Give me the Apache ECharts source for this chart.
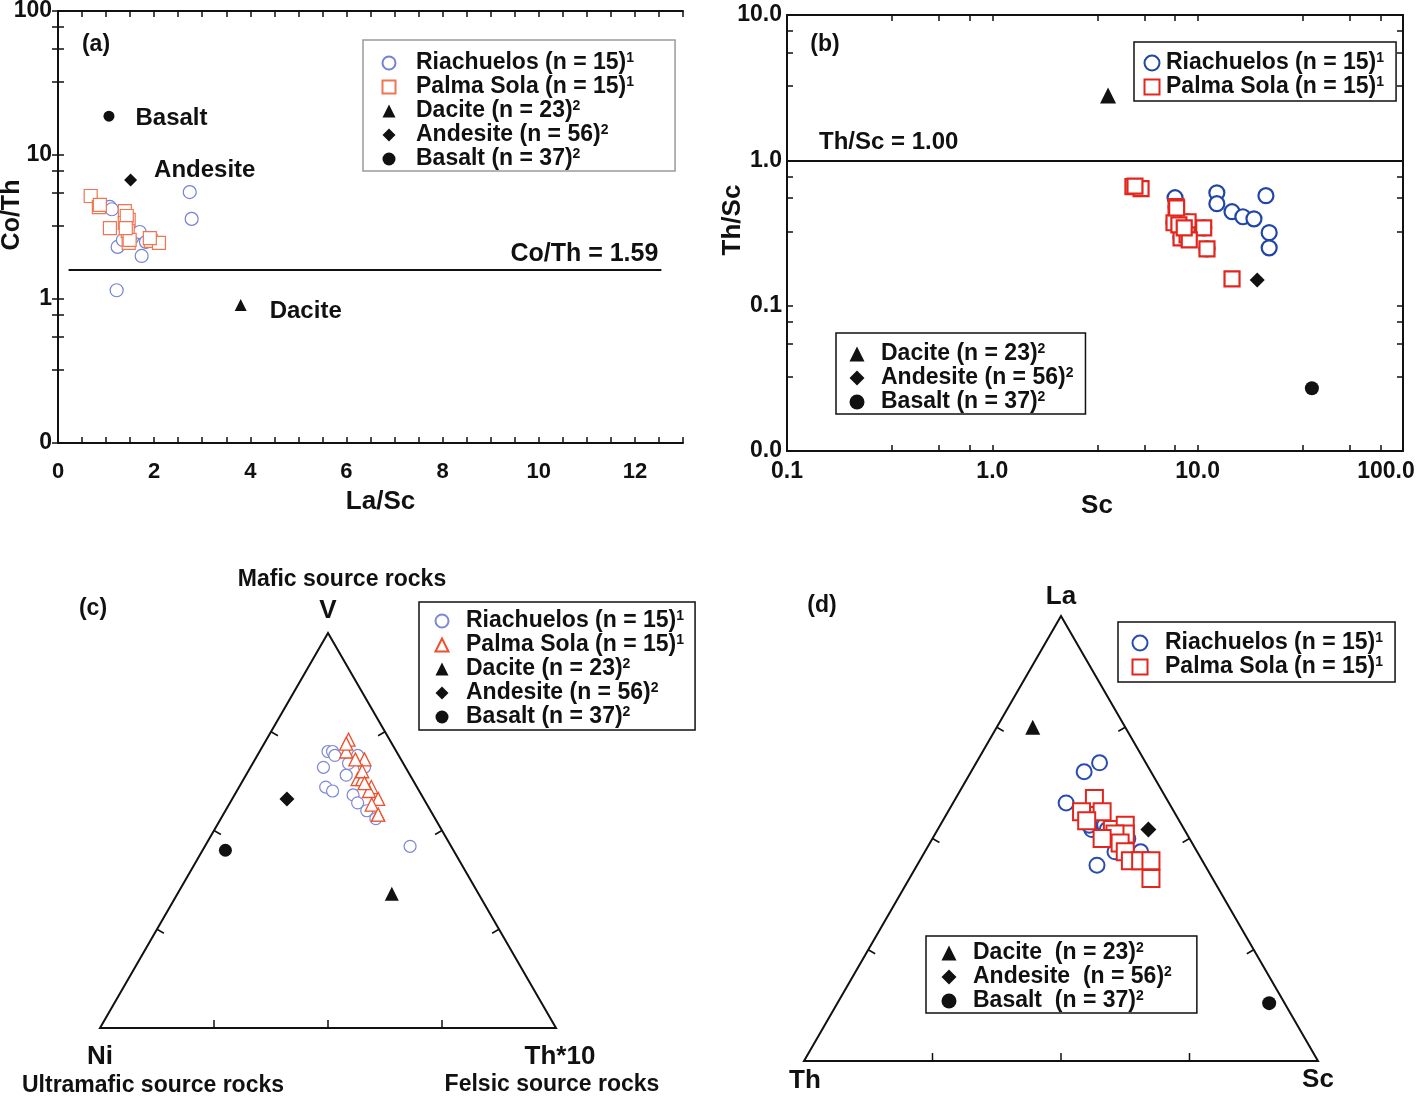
<!DOCTYPE html>
<html><head><meta charset="utf-8">
<script src="https://cdn.jsdelivr.net/npm/echarts@6/dist/echarts.min.js"></script>
<style>html,body{margin:0;padding:0;background:#fff}#c{width:1418px;height:1098px}</style>
</head><body><div id="c"></div>
<script>
// ================= DATA =================
// Panel (a): [La/Sc, Co/Th]
const aRiachuelos = [[1.08,4.36],[2.74,5.53],[2.78,3.60],[1.66,2.87],[1.85,2.65],[1.24,2.30],[1.74,1.99],[1.22,1.15],[1.54,2.65],[1.43,3.11],[1.51,2.74],[1.70,2.92],[1.35,2.57],[1.83,2.49],[1.12,4.20]];
const aPalmaSola = [[0.68,5.19],[0.85,4.35],[1.39,4.08],[1.47,3.54],[1.08,3.11],[1.39,3.37],[1.47,2.45],[1.93,2.53],[2.10,2.45],[1.43,3.77],[1.45,2.97],[1.91,2.65],[1.49,2.57],[0.87,4.50],[1.41,3.11]];
const aDacite = [[3.80,0.91]];
const aAndesite = [[1.51,6.7]];
const aBasalt = [[1.06,18.6]];
const aRefCoTh = 1.59;
const aRefLineX = [0.22, 12.55];
const aXTickValues = [0,0.5,1,1.5,2,2.5,3,3.5,4,4.5,5,5.5,6,6.5,7,7.5,8,8.5,9,9.5,10,10.5,11,11.5,12,12.5,13];
const aXLabelValues = [0,2,4,6,8,10,12];
const aYTickValues = [0.1,0.325,0.55,0.775,1,3.25,5.5,7.75,10,32.5,55,77.5,100];
const aYLabelValues = [0.1,1,10,100];
const aYLabelText = ['0','1','10','100'];

// Panel (b): [Sc, Th/Sc]
const bRiachuelos = [[7.76,0.553],[12.4,0.598],[12.4,0.503],[14.7,0.443],[16.6,0.409],[18.8,0.396],[21.5,0.571],[22.3,0.318],[22.3,0.250],[7.67,0.372],[8.98,0.378],[8.30,0.293],[10.7,0.343],[11.1,0.246],[7.85,0.48]];
const bPalmaSola = [[4.84,0.659],[5.30,0.638],[7.85,0.48],[7.67,0.372],[8.98,0.378],[8.30,0.293],[8.88,0.307],[10.7,0.343],[11.1,0.246],[14.7,0.153],[4.95,0.665],[8.10,0.36],[9.10,0.284],[8.60,0.343],[7.90,0.47]];
const bDacite = [[3.66,2.79]];
const bAndesite = [[19.5,0.150]];
const bBasalt = [[36.0,0.027]];
const bRefThSc = 1.0;
const bXTickValues = [0.1,0.325,0.55,0.775,1,3.25,5.5,7.75,10,32.5,55,77.5,100];
const bXLabelValues = [0.1,1,10,100];
const bXLabelText = ['0.1','1.0','10.0','100.0'];
const bYTickValues = [0.01,0.0325,0.055,0.0775,0.1,0.325,0.55,0.775,1,3.25,5.5,7.75,10];
const bYLabelValues = [0.01,0.1,1,10];
const bYLabelText = ['0.0','0.1','1.0','10.0'];

// Panel (c): ternary [V, Ni, Th*10] (%)
const cRiachuelos = [[66,18,16],[70,15,15],[70,14,16],[69,14,17],[64,14,22],[61,20,19],[60,19,21],[59,15,26],[57,15,28],[55,14,31],[53,13,34],[46,9,45],[69,9,22],[66,9,25],[67,12,21]];
const cPalmaSola = [[73,9,18],[70,11,19],[68,8,24],[63,12,25],[63,11,26],[61,10,29],[60,11,29],[58,10,32],[54,12,34],[72,10,18],[65,10,25],[62,11,27],[56,12,31],[54,12,34],[68,10,22]];
const cDacite = [[34,19,47]];
const cAndesite = [[58,30,12]];
const cBasalt = [[45,50,5]];

// Panel (d): ternary [La, Th, Sc] (%)
const dRiachuelos = [[67,9,24],[65,13,22],[58,20,22],[52,18,30],[54,16,30],[53,15,32],[47,16,37],[47,11,42],[44,21,35],[52,15,33],[49,14,37],[51,15,34],[53,18,29],[48,14,38],[50,12,38]];
const dPalmaSola = [[59,14,27],[56,18,26],[56,14,30],[54,18,28],[52,14,34],[53,11,36],[51,12,37],[51,14,35],[50,17,33],[49,14,37],[47,14,39],[45,14,41],[45,12,43],[45,10,45],[41,12,47]];
const dDacite = [[75,18,7]];
const dAndesite = [[52,7,41]];
const dBasalt = [[13,3,84]];
const ternTickFractions = [0.25, 0.5, 0.75];

// ================= HELPERS =================
const FONT = '"Liberation Sans", Arial, Helvetica, sans-serif';
const INK = '#111';
const SQ3 = Math.sqrt(3) / 2;
// (c): top V, left Ni, right Th*10
function ternC(p) { const s = p[0] + p[1] + p[2]; const v = p[0] / s, t = p[2] / s; return [t + v / 2, v * SQ3]; }
// (d): top La, left Th, right Sc
function ternD(p) { const s = p[0] + p[1] + p[2]; const la = p[0] / s, sc = p[2] / s; return [sc + la / 2, la * SQ3]; }

function pickLabel(values, texts, lastShift) {
  return function (v) {
    for (let i = 0; i < values.length; i++) {
      if (Math.abs(v - values[i]) <= Math.abs(values[i]) * 1e-6 + 1e-9) {
        if (lastShift && i === values.length - 1) return '{m|' + texts[i] + '}';
        return texts[i];
      }
    }
    return '';
  };
}

const tickStyle = { show: true, inside: true, length: 6, lineStyle: { color: INK, width: 1.5 } };
const lineStyle = { show: true, lineStyle: { color: INK, width: 2 } };
const labelFont = { fontFamily: FONT, fontWeight: 'bold', color: INK };
function nameFont(size, pad) { return { fontFamily: FONT, fontWeight: 'bold', fontSize: size, color: INK, padding: pad }; }

function sc(name, xi, yi, data, symbol, size, color, bw, filled, extra) {
  return Object.assign({
    name: name, type: 'scatter', xAxisIndex: xi, yAxisIndex: yi, data: data,
    symbol: symbol, symbolSize: size, symbolKeepAspect: true, silent: true,
    itemStyle: filled ? { color: color, borderWidth: 0, opacity: 1 } : { color: '#fff', borderColor: color, borderWidth: bw, opacity: 1 }
  }, extra || {});
}

function ternFrame(xi, yi, conv, verts) {
  return {
    type: 'custom', xAxisIndex: xi, yAxisIndex: yi, data: [0], silent: true, z: 1,
    renderItem: function (params, api) {
      const P = verts.map(function (v) { return api.coord(conv(v)); });
      const G = [(P[0][0] + P[1][0] + P[2][0]) / 3, (P[0][1] + P[1][1] + P[2][1]) / 3];
      const children = [{ type: 'polygon', shape: { points: P }, style: { fill: 'none', stroke: INK, lineWidth: 2 } }];
      const L = 8;
      for (let i = 0; i < 3; i++) {
        const A = P[i], B = P[(i + 1) % 3];
        const dx = B[0] - A[0], dy = B[1] - A[1], len = Math.hypot(dx, dy);
        const nx = -dy / len, ny = dx / len;
        ternTickFractions.forEach(function (f) {
          const M = [A[0] + dx * f, A[1] + dy * f];
          let sx = nx, sy = ny;
          if ((G[0] - M[0]) * sx + (G[1] - M[1]) * sy < 0) { sx = -sx; sy = -sy; }
          children.push({ type: 'line', shape: { x1: M[0], y1: M[1], x2: M[0] + sx * L, y2: M[1] + sy * L }, style: { stroke: INK, lineWidth: 1.5 } });
        });
      }
      return { type: 'group', children: children };
    }
  };
}

// legend display texts
const legendText = {
  aR: 'Riachuelos (n = 15)|1', aP: 'Palma Sola (n = 15)|1', aD: 'Dacite (n = 23)|2', aA: 'Andesite (n = 56)|2', aB: 'Basalt (n = 37)|2',
  bR: 'Riachuelos (n = 15)|1', bP: 'Palma Sola (n = 15)|1', bD: 'Dacite (n = 23)|2', bA: 'Andesite (n = 56)|2', bB: 'Basalt (n = 37)|2',
  cR: 'Riachuelos (n = 15)|1', cP: 'Palma Sola (n = 15)|1', cD: 'Dacite (n = 23)|2', cA: 'Andesite (n = 56)|2', cB: 'Basalt (n = 37)|2',
  dR: 'Riachuelos (n = 15)|1', dP: 'Palma Sola (n = 15)|1', dD: 'Dacite  (n = 23)|2', dA: 'Andesite  (n = 56)|2', dB: 'Basalt  (n = 37)|2'
};
function mkLegend(names, pos, icon, gap, padding, border) {
  return {
    orient: 'vertical', left: pos[0], top: pos[1], data: names, selectedMode: false,
    itemWidth: icon, itemHeight: icon, itemGap: 0, padding: padding, symbolKeepAspect: true,
    borderColor: border || INK, borderWidth: 1.5, backgroundColor: '#fff',
    formatter: function (n) { const p = legendText[n].split('|'); return '{g| }{t|' + p[0] + '}{s|' + p[1] + '}'; },
    textStyle: {
      fontFamily: FONT, fontWeight: 'bold', fontSize: 23, color: INK, lineHeight: 24,
      rich: {
        g: { width: gap, fontSize: 12, lineHeight: 24 },
        t: { fontFamily: FONT, fontWeight: 'bold', fontSize: 23, color: INK, lineHeight: 24 },
        s: { fontFamily: FONT, fontWeight: 'bold', fontSize: 14, color: INK, lineHeight: 13, verticalAlign: 'top' }
      }
    }
  };
}
function txt(x, y, text, size, align) {
  return { type: 'text', x: x, y: y, silent: true, z: 10, style: { text: text, fontFamily: FONT, fontWeight: 'bold', fontSize: size, fill: INK, align: align || 'center', verticalAlign: 'middle' } };
}

// ================= OPTION =================
const option = {
  backgroundColor: '#fff',
  animation: false,
  grid: [
    { left: 58, top: 11, width: 625, height: 432, outerBoundsMode: 'none', containLabel: false },
    { left: 787, top: 15, width: 616, height: 436, outerBoundsMode: 'none', containLabel: false },
    { left: 100, top: 633, width: 456, height: 395, outerBoundsMode: 'none', containLabel: false },
    { left: 804, top: 616, width: 514, height: 445, outerBoundsMode: 'none', containLabel: false }
  ],
  xAxis: [
    { gridIndex: 0, type: 'value', min: 0, max: 13, position: 'bottom', axisLine: lineStyle, splitLine: { show: false },
      axisTick: Object.assign({ customValues: aXTickValues }, tickStyle),
      axisLabel: Object.assign({ customValues: aXLabelValues, margin: 18, fontSize: 22, formatter: function (v) { return String(v); } }, labelFont),
      name: 'La/Sc', nameLocation: 'middle', nameGap: 46, nameMoveOverlap: false, nameTextStyle: nameFont(26, [0, 0, 0, 20]) },
    { gridIndex: 0, type: 'value', min: 0, max: 13, position: 'top', axisLine: lineStyle, splitLine: { show: false },
      axisTick: Object.assign({ customValues: aXTickValues }, tickStyle), axisLabel: { show: false } },
    { gridIndex: 1, type: 'log', logBase: 10, min: 0.1, max: 100, position: 'bottom', axisLine: lineStyle, splitLine: { show: false },
      axisTick: Object.assign({ customValues: bXTickValues }, tickStyle),
      axisLabel: Object.assign({ customValues: bXLabelValues, margin: 9, fontSize: 23, formatter: pickLabel(bXLabelValues, bXLabelText, true),
        rich: { m: { fontFamily: FONT, fontWeight: 'bold', fontSize: 23, color: INK, padding: [0, 34, 0, 0] } } }, labelFont),
      name: 'Sc', nameLocation: 'middle', nameGap: 42, nameMoveOverlap: false, nameTextStyle: nameFont(26, [0, 0, 0, 4]) },
    { gridIndex: 1, type: 'log', logBase: 10, min: 0.1, max: 100, position: 'top', axisLine: lineStyle, splitLine: { show: false },
      axisTick: Object.assign({ customValues: bXTickValues }, tickStyle), axisLabel: { show: false } },
    { gridIndex: 2, type: 'value', min: 0, max: 1, show: false },
    { gridIndex: 3, type: 'value', min: 0, max: 1, show: false }
  ],
  yAxis: [
    { gridIndex: 0, type: 'log', logBase: 10, min: 0.1, max: 100, position: 'left', axisLine: lineStyle, splitLine: { show: false },
      axisTick: Object.assign({ customValues: aYTickValues }, tickStyle),
      axisLabel: Object.assign({ customValues: aYLabelValues, margin: 6, fontSize: 23, formatter: pickLabel(aYLabelValues, aYLabelText) }, labelFont),
      name: 'Co/Th', nameLocation: 'middle', nameGap: 33, nameMoveOverlap: false, nameTextStyle: nameFont(25, [0, 0, 0, 24]) },
    { gridIndex: 0, type: 'log', logBase: 10, min: 0.1, max: 100, position: 'right', axisLine: lineStyle, splitLine: { show: false },
      axisTick: Object.assign({ customValues: aYTickValues }, tickStyle), axisLabel: { show: false } },
    { gridIndex: 1, type: 'log', logBase: 10, min: 0.01, max: 10, position: 'left', axisLine: lineStyle, splitLine: { show: false },
      axisTick: Object.assign({ customValues: bYTickValues }, tickStyle),
      axisLabel: Object.assign({ customValues: bYLabelValues, margin: 5, fontSize: 23, formatter: pickLabel(bYLabelValues, bYLabelText) }, labelFont),
      name: 'Th/Sc', nameLocation: 'middle', nameGap: 41, nameMoveOverlap: false, nameTextStyle: nameFont(26, [0, 0, 0, 26]) },
    { gridIndex: 1, type: 'log', logBase: 10, min: 0.01, max: 10, position: 'right', axisLine: lineStyle, splitLine: { show: false },
      axisTick: Object.assign({ customValues: bYTickValues }, tickStyle), axisLabel: { show: false } },
    { gridIndex: 2, type: 'value', min: 0, max: SQ3, show: false },
    { gridIndex: 3, type: 'value', min: 0, max: SQ3, show: false }
  ],
  legend: [
    mkLegend(['aR', 'aP', 'aD', 'aA', 'aB'], [363, 40], 13, 15.5, [11, 41, 0, 18.5], '#9a9a9a'),
    mkLegend(['bR', 'bP'], [1134, 42], 15, 1.5, [9, 12, 2, 9.5]),
    mkLegend(['bD', 'bA', 'bB'], [836, 333], 15, 11.5, [9, 12, 0, 13.5]),
    mkLegend(['cR', 'cP', 'cD', 'cA', 'cB'], [419, 602], 13, 12.5, [7, 11, 1, 15.5]),
    mkLegend(['dR', 'dP'], [1118, 622], 15, 12.5, [9, 12, 3, 13.5]),
    mkLegend(['dD', 'dA', 'dB'], [926, 936], 15, 11.5, [5, 25, 0, 15.5])
  ],
  series: [
    // ---- (a)
    sc('aR', 0, 0, aRiachuelos, 'circle', 13, '#7482d2', 1.2, false),
    sc('aP', 0, 0, aPalmaSola, 'rect', 13, '#f07652', 1.2, false),
    sc('aD', 0, 0, aDacite, 'triangle', 12, INK, 0, true, { label: { show: true, position: 'right', distance: 23, offset: [0, 6], formatter: 'Dacite', fontFamily: FONT, fontWeight: 'bold', fontSize: 24, color: INK } }),
    sc('aA', 0, 0, aAndesite, 'diamond', 13, INK, 0, true, { label: { show: true, position: 'right', distance: 17, offset: [0, -10], formatter: 'Andesite', fontFamily: FONT, fontWeight: 'bold', fontSize: 24, color: INK } }),
    sc('aB', 0, 0, aBasalt, 'circle', 11, INK, 0, true, { label: { show: true, position: 'right', distance: 21, offset: [0, 2], formatter: 'Basalt', fontFamily: FONT, fontWeight: 'bold', fontSize: 24, color: INK } }),
    { type: 'line', xAxisIndex: 0, yAxisIndex: 0, data: [], silent: true,
      markLine: { silent: true, symbol: 'none', animation: false, lineStyle: { color: INK, width: 2, type: 'solid' },
        label: { show: true, position: 'insideEndTop', formatter: 'Co/Th = 1.59', fontFamily: FONT, fontWeight: 'bold', fontSize: 25, color: INK, distance: 3 },
        data: [[{ coord: [aRefLineX[0], aRefCoTh] }, { coord: [aRefLineX[1], aRefCoTh] }]] } },
    // ---- (b)
    sc('bR', 2, 2, bRiachuelos, 'circle', 15, '#2146a8', 2.2, false),
    sc('bP', 2, 2, bPalmaSola, 'rect', 15, '#e2261e', 2.2, false),
    sc('bD', 2, 2, bDacite, 'triangle', 16, INK, 0, true),
    sc('bA', 2, 2, bAndesite, 'diamond', 15, INK, 0, true),
    sc('bB', 2, 2, bBasalt, 'circle', 14, INK, 0, true),
    { type: 'line', xAxisIndex: 2, yAxisIndex: 2, data: [], silent: true,
      markLine: { silent: true, symbol: 'none', animation: false, lineStyle: { color: INK, width: 2, type: 'solid' },
        label: { show: true, position: 'insideStartTop', formatter: 'Th/Sc = 1.00', fontFamily: FONT, fontWeight: 'bold', fontSize: 24, color: INK, distance: 6, padding: [0, 0, 0, 26] },
        data: [{ yAxis: bRefThSc }] } },
    // ---- (c)
    ternFrame(4, 4, ternC, [[0, 100, 0], [0, 0, 100], [100, 0, 0]]),
    sc('cR', 4, 4, cRiachuelos.map(ternC), 'circle', 12, '#7d88d6', 1.2, false),
    sc('cP', 4, 4, cPalmaSola.map(ternC), 'triangle', 13, '#f0502c', 1.3, false),
    sc('cD', 4, 4, cDacite.map(ternC), 'triangle', 14, INK, 0, true),
    sc('cA', 4, 4, cAndesite.map(ternC), 'diamond', 15, INK, 0, true),
    sc('cB', 4, 4, cBasalt.map(ternC), 'circle', 13, INK, 0, true),
    // ---- (d)
    ternFrame(5, 5, ternD, [[0, 100, 0], [0, 0, 100], [100, 0, 0]]),
    sc('dR', 5, 5, dRiachuelos.map(ternD), 'circle', 15, '#2a4cb0', 2, false),
    sc('dP', 5, 5, dPalmaSola.map(ternD), 'rect', 17, '#e2261e', 2, false),
    sc('dD', 5, 5, dDacite.map(ternD), 'triangle', 15, INK, 0, true),
    sc('dA', 5, 5, dAndesite.map(ternD), 'diamond', 16, INK, 0, true),
    sc('dB', 5, 5, dBasalt.map(ternD), 'circle', 14, INK, 0, true)
  ],
  graphic: [
    txt(96, 45, '(a)', 23),
    txt(825, 45, '(b)', 23),
    txt(93, 609, '(c)', 23),
    txt(822, 606, '(d)', 23),
    txt(342, 580, 'Mafic source rocks', 23),
    txt(328, 611, 'V', 26),
    txt(100, 1057, 'Ni', 26),
    txt(153, 1086, 'Ultramafic source rocks', 23),
    txt(560, 1057, 'Th*10', 26),
    txt(552, 1085, 'Felsic source rocks', 23),
    txt(1061, 597, 'La', 26),
    txt(805, 1081, 'Th', 26),
    txt(1318, 1080, 'Sc', 26)
  ]
};

const chart = echarts.init(document.getElementById('c'), null, { renderer: 'canvas', width: 1418, height: 1098 });
chart.setOption(option);
</script>
</body></html>
